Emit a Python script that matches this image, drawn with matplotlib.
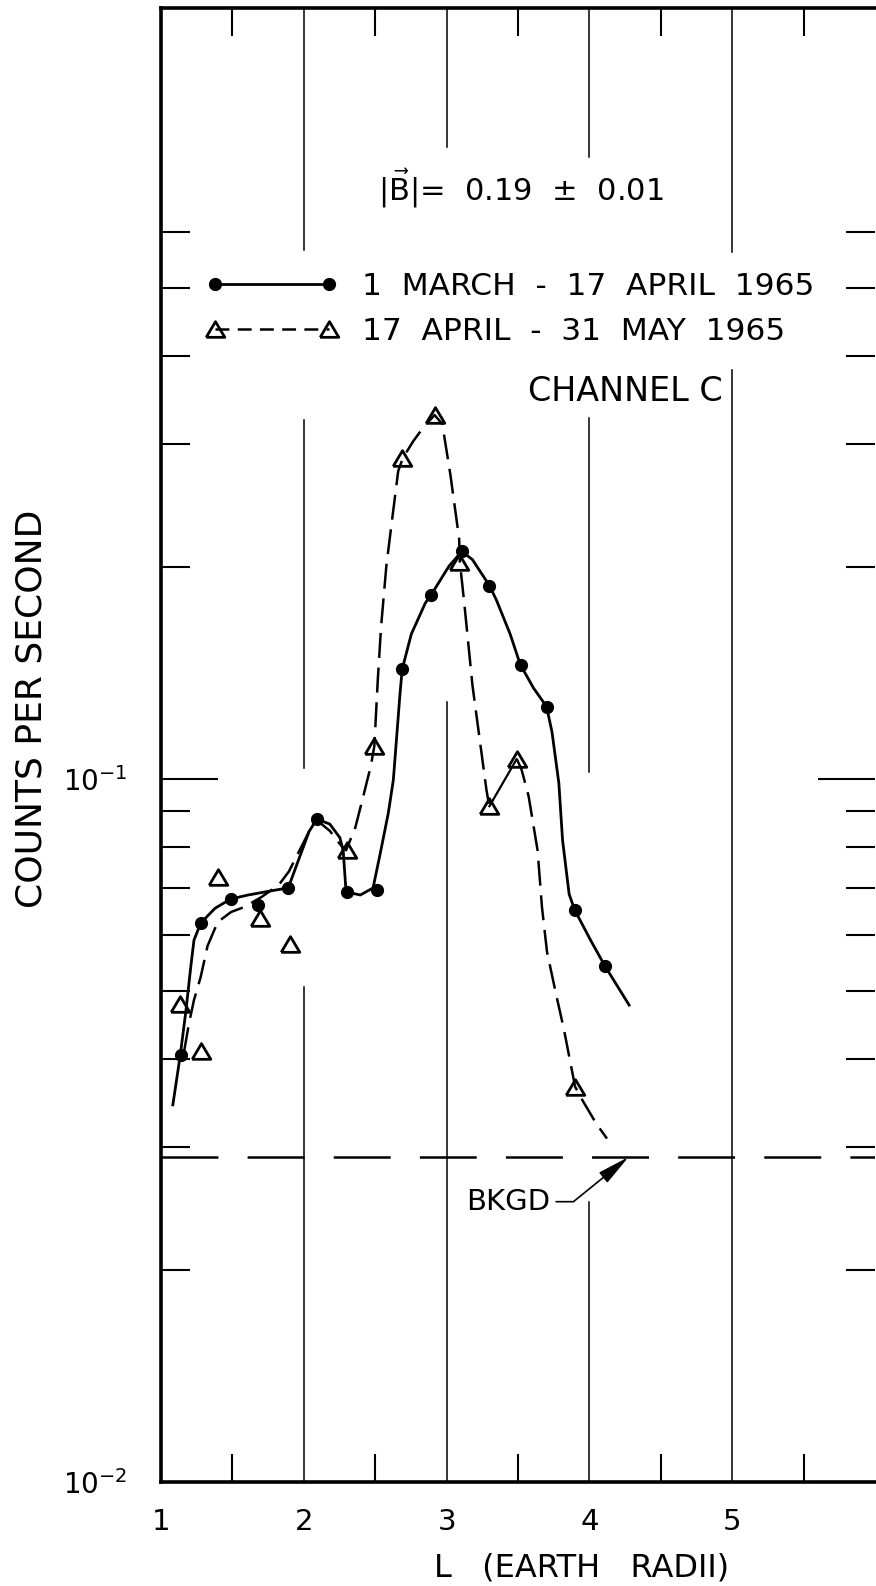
import matplotlib
matplotlib.use("Agg")
import matplotlib.pyplot as plt
from matplotlib.lines import Line2D
from matplotlib.ticker import NullFormatter

plt.rcParams["font.family"] = ["DejaVu Sans"]
plt.rcParams["mathtext.fontset"] = "dejavusans"
plt.rcParams["lines.scale_dashes"] = False

# ---- counting rate vs L, channel C, |B| = 0.19 +- 0.01 ----
# 1 March - 17 April 1965 (filled circles)
L_mar = [1.14, 1.28, 1.49, 1.68, 1.89, 2.09, 2.30, 2.51, 2.69, 2.89,
         3.11, 3.30, 3.52, 3.70, 3.90, 4.11]
cps_mar = [0.0405, 0.0624, 0.0676, 0.0663, 0.0700, 0.0877, 0.0691, 0.0695,
           0.1433, 0.1830, 0.2108, 0.1882, 0.1455, 0.1268, 0.0652, 0.0542]

# hand-faired curve through the March-April points
L_mar_fit = [1.083, 1.135, 1.175, 1.210, 1.231, 1.278, 1.379, 1.487, 1.610, 1.799,
             1.891, 1.968, 2.038, 2.091, 2.182, 2.253, 2.276, 2.296, 2.396, 2.485,
             2.536, 2.592, 2.627, 2.673, 2.689, 2.753, 2.851, 2.893, 3.017, 3.107,
             3.181, 3.302, 3.349, 3.445, 3.516, 3.609, 3.700, 3.738, 3.786, 3.812,
             3.858, 3.896, 4.008, 4.109, 4.278]
cps_mar_fit = [0.0344, 0.0405, 0.0469, 0.0544, 0.0590, 0.0624, 0.0655, 0.0675, 0.0684, 0.0695,
               0.0700, 0.0772, 0.0843, 0.0877, 0.0863, 0.0825, 0.0790, 0.0691, 0.0684, 0.0700,
               0.0785, 0.0895, 0.0997, 0.1317, 0.1433, 0.1608, 0.1780, 0.1830, 0.2009, 0.2108,
               0.2052, 0.1882, 0.1797, 0.1608, 0.1455, 0.1347, 0.1268, 0.1167, 0.0987, 0.0819,
               0.0686, 0.0652, 0.0590, 0.0542, 0.0477]

# 17 April - 31 May 1965 (open triangles)
L_may = [1.13, 1.28, 1.40, 1.69, 1.90, 2.30, 2.49, 2.69, 2.92, 3.09, 3.30, 3.49, 3.90]
cps_may = [0.0479, 0.0410, 0.0726, 0.0634, 0.0583, 0.0793, 0.1114, 0.2863, 0.3295,
           0.2036, 0.0915, 0.1067, 0.0365]

# dashed faired curve, inner part (up to L = 3.3)
L_may_fit_a = [1.161, 1.195, 1.231, 1.278, 1.326, 1.397, 1.491, 1.587, 1.706, 1.825,
               1.896, 1.968, 2.015, 2.062, 2.091, 2.182, 2.253, 2.296, 2.360, 2.410,
               2.469, 2.494, 2.518, 2.541, 2.578, 2.613, 2.661, 2.694, 2.767, 2.844,
               2.916, 2.970, 3.027, 3.088, 3.093, 3.125, 3.181, 3.244, 3.279, 3.299]
cps_may_fit_a = [0.0409, 0.0448, 0.0485, 0.0523, 0.0579, 0.0626, 0.0647, 0.0658, 0.0680, 0.0707,
                 0.0739, 0.0790, 0.0825, 0.0863, 0.0874, 0.0844, 0.0808, 0.0792, 0.0852, 0.0934,
                 0.1043, 0.1114, 0.1383, 0.1645, 0.2009, 0.2293, 0.2742, 0.2863, 0.3026, 0.3177,
                 0.3295, 0.3199, 0.2706, 0.2196, 0.2036, 0.1769, 0.1360, 0.1091, 0.0965, 0.0915]
# dashed faired curve, outer part (from L = 3.5)
L_may_fit_b = [3.492, 3.524, 3.574, 3.637, 3.668, 3.703, 3.763, 3.822, 3.868, 3.900,
               3.952, 4.050, 4.123]
cps_may_fit_b = [0.1067, 0.1033, 0.0946, 0.0792, 0.0657, 0.0568, 0.0498, 0.0440, 0.0394,
                 0.0365, 0.0349, 0.0323, 0.0308]

background = 0.029

x_ticks = [1, 2, 3, 4, 5]
x_ticklabels = ["1", "2", "3", "4", "5"]
y_ticks = [0.01, 0.1]
y_ticklabels = [r"$10^{-2}$", r"$10^{-1}$"]
y_minor = [0.02, 0.03, 0.04, 0.05, 0.06, 0.07, 0.08, 0.09, 0.2, 0.3, 0.4, 0.5, 0.6]
x_minor = [1.5, 2.5, 3.5, 4.5, 5.5]

YMIN, YMAX = 0.01, 1.25
# broken vertical rulings (x, y_low, y_high), left open around lettering and curves
grid_segments = [
    (2, 0.566, YMAX), (2, 0.1036, 0.324), (2, YMIN, 0.0506),
    (3, 0.7925, YMAX), (3, YMIN, 0.1287),
    (4, 0.767, YMAX), (4, 0.1023, 0.3262), (4, YMIN, 0.0250),
    (5, 0.5618, YMAX), (5, YMIN, 0.3818),
]

# triangle marker a little flatter than matplotlib's default
tri = [(-1.0, -0.84), (1.0, -0.84), (0.0, 0.84), (-1.0, -0.84)]

fig = plt.figure(figsize=(8.76, 15.86), dpi=100)
ax = fig.add_axes([161 / 876, (1586 - 1482) / 1586, 714 / 876, 1474 / 1586])
ax.set_yscale("log")
ax.set_xlim(1, 6)
ax.set_ylim(YMIN, YMAX)

for x, lo, hi in grid_segments:
    ax.plot([x, x], [lo, hi], color="k", lw=1.1, zorder=1)

ax.axhline(background, color="k", lw=1.8, linestyle=(0, (41, 21)), zorder=1)

# faired curves
ax.plot(L_mar_fit, cps_mar_fit, color="k", lw=2.0, zorder=2,
        solid_joinstyle="round")
ax.plot(L_may_fit_a, cps_may_fit_a, color="k", lw=1.8, linestyle=(0, (18, 7)), zorder=2)
ax.plot(L_may_fit_b, cps_may_fit_b, color="k", lw=1.8, linestyle=(0, (18, 7)), zorder=2)
ax.plot(L_may[10:12], cps_may[10:12], color="k", lw=1.6, zorder=2)

# measured points
ax.plot(L_may, cps_may, linestyle="none", marker=tri, ms=13.4, mfc="none",
        mec="k", mew=2.0, zorder=3)
ax.plot(L_mar, cps_mar, linestyle="none", marker="o", ms=8.5, mfc="k",
        mec="k", zorder=4)

# axes styling
for side in ("left", "bottom", "top"):
    ax.spines[side].set_linewidth(2.6)
ax.spines["right"].set_visible(False)

ax.set_xticks(x_ticks, labels=x_ticklabels)
ax.set_xticks(x_minor, minor=True)
ax.tick_params(axis="x", which="major", length=0, pad=19, labelsize=21)
ax.tick_params(axis="x", which="minor", direction="in", length=20, width=1.5,
               top=True, bottom=True)
ax.set_yticks(y_ticks, labels=y_ticklabels)
ax.set_yticks(y_minor, minor=True)
ax.yaxis.set_minor_formatter(NullFormatter())
ax.tick_params(axis="y", which="major", direction="in", length=41, width=1.5,
               left=True, right=True, labelsize=20, pad=24)
ax.tick_params(axis="y", which="minor", direction="in", length=21, width=1.5,
               left=True, right=True)

ax.set_xlabel("L   (EARTH   RADII)", fontsize=23)
ax.xaxis.set_label_coords(0.589, -0.0475)
ax.set_ylabel("COUNTS PER SECOND", fontsize=26)
ax.yaxis.set_label_coords(-0.182, 0.5244)
ax.yaxis.label.set_verticalalignment("center")

# annotations
ax.text(3.52, 0.665, r"$|\vec{\mathrm{B}}|$=  0.19  ±  0.01", fontsize=22,
        ha="center", va="baseline")
ax.text(4.93, 0.345, "CHANNEL C", fontsize=24, ha="right", va="baseline")
ax.annotate("BKGD", xy=(4.275, background), xytext=(3.728, 0.0244),
            textcoords="data", fontsize=21, ha="right", va="baseline",
            arrowprops=dict(arrowstyle="-|>,head_length=1.0,head_width=0.2",
                            connectionstyle="angle,angleA=0,angleB=39,rad=0",
                            relpos=(1.0, 0.5), shrinkA=2, shrinkB=0,
                            lw=1.2, color="k", mutation_scale=20))

handles = [
    Line2D([], [], color="k", lw=2.0, marker="o", ms=8.5, mfc="k"),
    Line2D([], [], color="k", lw=1.8, linestyle=(0, (10, 6)), marker=tri,
           ms=13.4, mfc="none", mew=2.0),
]
labels = ["1  MARCH  -  17  APRIL  1965", "17  APRIL  -  31  MAY  1965"]
ax.legend(handles, labels, loc="center left", bbox_to_anchor=(0.0625, 0.7960),
          frameon=False, fontsize=22.5, numpoints=2, handlelength=4.25,
          handletextpad=0.75, borderpad=0, borderaxespad=0, labelspacing=0.5)

fig.savefig("out.png", dpi=100)
